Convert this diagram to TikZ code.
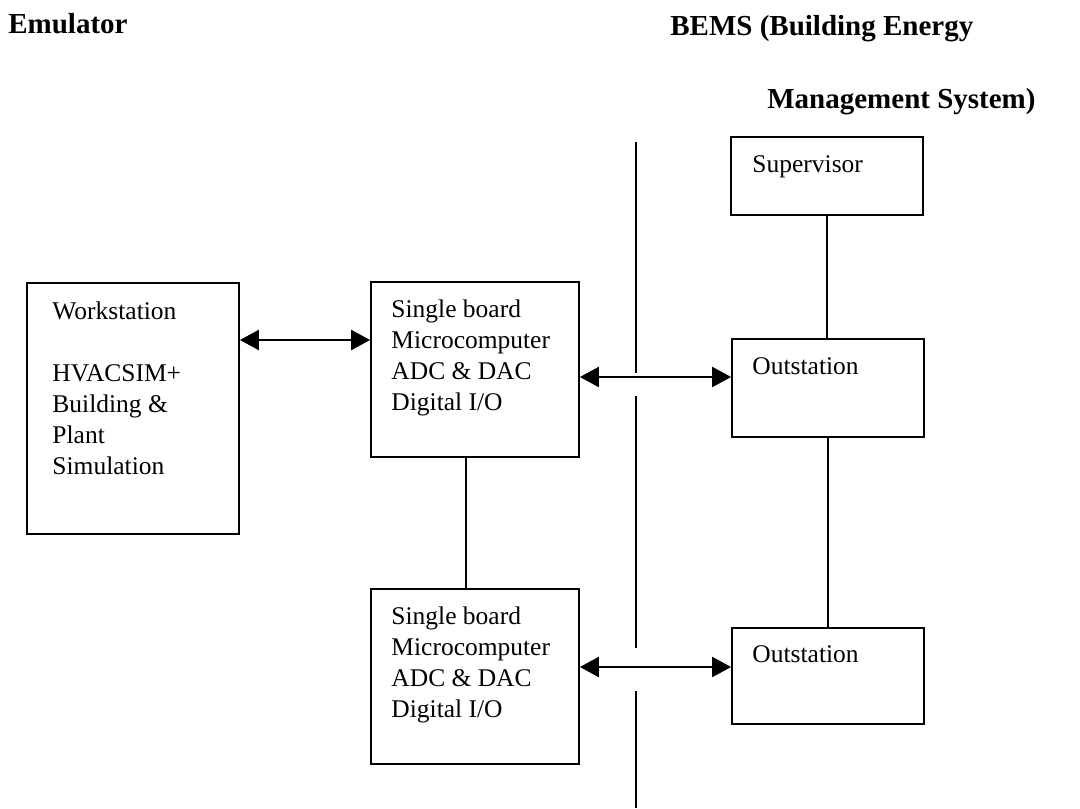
\documentclass[tikz,border=0pt]{standalone}
\usepackage{fontspec}
\setmainfont{Liberation Serif}
\usetikzlibrary{arrows.meta,positioning}

\begin{document}
\begin{tikzpicture}[
    box/.style={draw,line width=1pt,inner sep=0pt},
    boxtxt/.style={align=left,inner sep=0pt,font=\fontsize{14.5}{17.6}\selectfont},
    title/.style={anchor=base west,inner sep=0pt,font=\fontsize{16.5}{20}\selectfont\bfseries},
    wire/.style={line width=1.1pt},
    dbl/.style={<->,>={Triangle[length=0.38cm,width=0.4cm]},line width=1.2pt}
]
\useasboundingbox (0,0) rectangle (21.6,-16.16);
%\draw[help lines] (0,0) grid (21.6,-16.16);
\node[title] (emu) at (0.16,-0.66) {Emulator};
\node[title] (bems) at (13.40,-0.70) {BEMS (Building Energy};
\node[title] (bems2) at (15.34,-2.16) {Management System)};

% emulator side
\node[box,minimum width=4.24cm,minimum height=5.02cm] (ws) at (2.66,-8.17) {};
\node[boxtxt,below right=0.39cm and 0.52cm of ws.north west] (wstxt)
    {Workstation\\[17.6pt]HVACSIM+\\Building \&\\Plant\\Simulation};
\node[box,minimum width=4.16cm,minimum height=3.5cm] (sb1) at (9.50,-7.39) {};
\node[boxtxt,below right=0.37cm and 0.42cm of sb1.north west] (sb1txt)
    {Single board\\Microcomputer\\ADC \& DAC\\Digital I/O};
\node[box,minimum width=4.16cm,minimum height=3.5cm] (sb2) at (9.50,-13.53) {};
\node[boxtxt,below right=0.37cm and 0.42cm of sb2.north west] (sb2txt)
    {Single board\\Microcomputer\\ADC \& DAC\\Digital I/O};

% BEMS side
\node[box,minimum width=3.84cm,minimum height=1.56cm] (sup) at (16.54,-3.52) {};
\node[boxtxt,below right=0.38cm and 0.44cm of sup.north west] (suptxt) {Supervisor};
\node[box,minimum width=3.84cm,minimum height=1.96cm] (out1) at (16.56,-7.76) {};
\node[boxtxt,below right=0.38cm and 0.42cm of out1.north west] (out1txt) {Outstation};
\node[box,minimum width=3.84cm,minimum height=1.92cm] (out2) at (16.56,-13.52) {};
\node[boxtxt,below right=0.36cm and 0.42cm of out2.north west] (out2txt) {Outstation};

% links
\coordinate (p1) at ([yshift=0.59cm]sb1.west);
\draw[dbl] (p1 -| ws.east) -- (p1);
\coordinate (p2) at ([yshift=-0.15cm]sb1.east);
\draw[dbl] (p2) -- (p2 -| out1.west);
\coordinate (p3) at ([yshift=0.19cm]sb2.east);
\draw[dbl] (p3) -- (p3 -| out2.west);
\draw[wire] ([xshift=-0.18cm]sb1.south) -- ([xshift=-0.18cm]sb2.north);
\draw[wire] (sup.south) -- (sup.south |- out1.north);
\draw[wire] (out1.south) -- (out2.north);

% boundary
\draw[wire] (12.72,-2.84) -- (12.72,-7.46)
    (12.72,-7.92) -- (12.72,-12.96)
    (12.72,-13.82) -- (12.72,-16.16);
\end{tikzpicture}
\end{document}
